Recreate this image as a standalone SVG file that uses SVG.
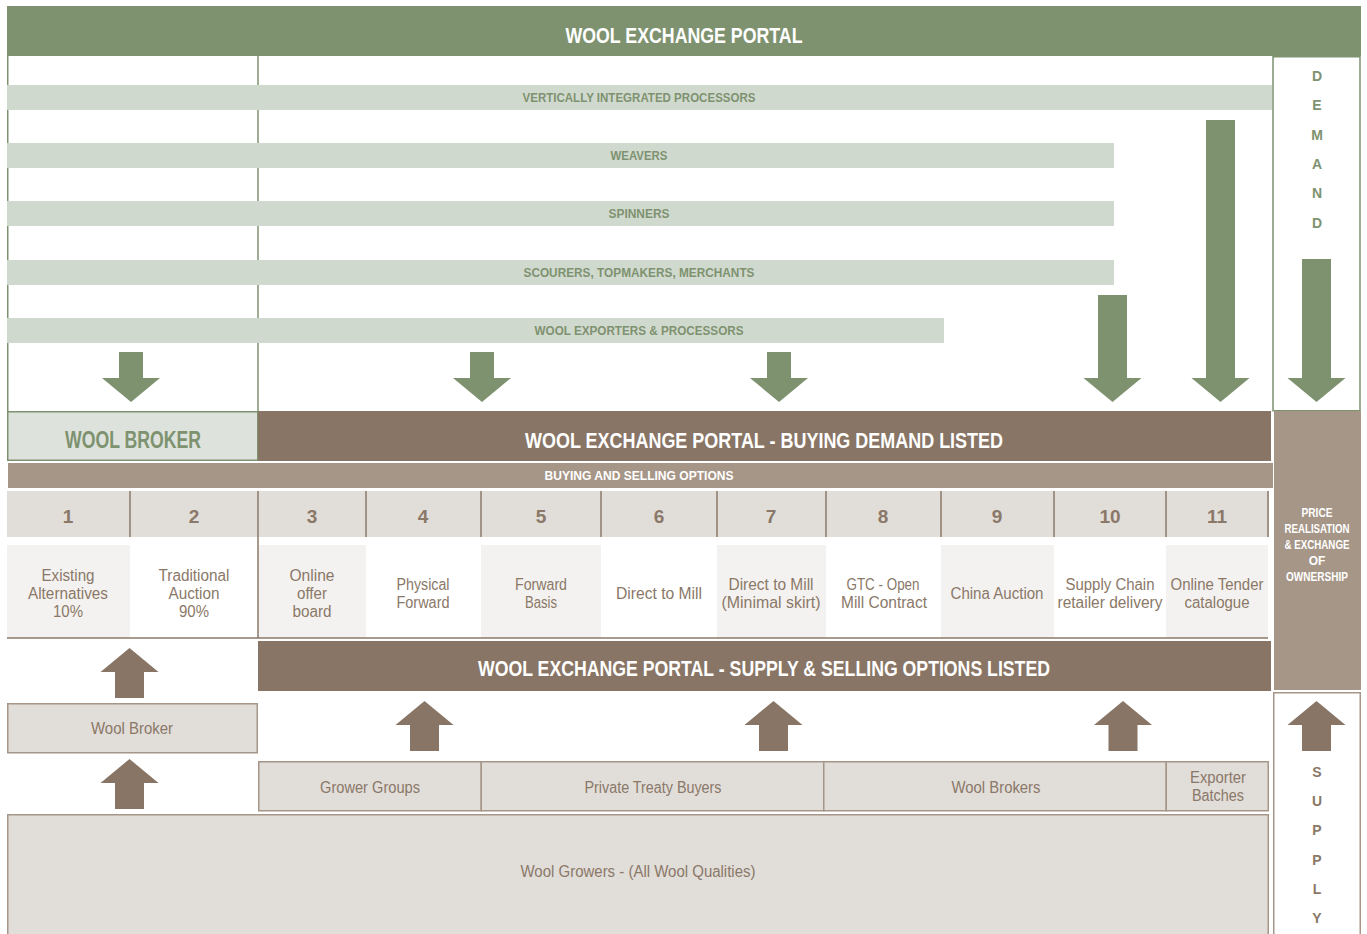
<svg xmlns="http://www.w3.org/2000/svg" width="1367" height="934" viewBox="0 0 1367 934">
<style>
text{font-family:"Liberation Sans","DejaVu Sans",sans-serif;text-anchor:middle}
.hw{fill:#fff;font-weight:bold;font-size:22px}
.gl{fill:#7e9270;font-weight:bold;font-size:13px}
.bar{fill:#d0d9ce}
.num{fill:#8a7868;font-size:19px;font-weight:bold}
.lbl{fill:#8a7868;font-size:16px}
.ltr-g{fill:#7e9270;font-weight:bold;font-size:14px}
.ltr-b{fill:#8a7868;font-weight:bold;font-size:14px}
.pr{fill:#fff;font-weight:bold;font-size:12px}
.ga{fill:#7e9270}
.ba{fill:#887565}
.box{fill:#e1ddd9;stroke:#a69687;stroke-width:1.5}
.lite{fill:#f4f2f0}
.div{stroke:#8a7868;stroke-width:1.5}
</style>

<g id="title">
<rect x="7" y="6" width="1354" height="50" fill="#7e9270"/>
<text class="hw" x="684" y="43" textLength="237" lengthAdjust="spacingAndGlyphs">WOOL EXCHANGE PORTAL</text>
</g>

<g id="frame-lines" stroke="#7e9270" stroke-width="1.5" fill="none">
<line x1="7.75" y1="56" x2="7.75" y2="411"/>
<line x1="258" y1="56" x2="258" y2="411"/>
</g>

<g id="demand">
<rect x="1273" y="56.75" width="87" height="354" fill="#fff" stroke="#7e9270" stroke-width="1.5"/>
<text class="ltr-g" x="1317" y="81">D</text>
<text class="ltr-g" x="1317" y="110">E</text>
<text class="ltr-g" x="1317" y="140">M</text>
<text class="ltr-g" x="1317" y="169">A</text>
<text class="ltr-g" x="1317" y="198">N</text>
<text class="ltr-g" x="1317" y="228">D</text>
</g>

<g id="vertically-integrated">
<rect class="bar" x="7" y="85" width="1265" height="25"/>
<text class="gl" x="639" y="102" textLength="233" lengthAdjust="spacingAndGlyphs">VERTICALLY INTEGRATED PROCESSORS</text>
</g>
<g id="weavers">
<rect class="bar" x="7" y="143" width="1107" height="25"/>
<text class="gl" x="639" y="160" textLength="57" lengthAdjust="spacingAndGlyphs">WEAVERS</text>
</g>
<g id="spinners">
<rect class="bar" x="7" y="201" width="1107" height="25"/>
<text class="gl" x="639" y="218" textLength="61" lengthAdjust="spacingAndGlyphs">SPINNERS</text>
</g>
<g id="scourers">
<rect class="bar" x="7" y="260" width="1107" height="25"/>
<text class="gl" x="639" y="277" textLength="231" lengthAdjust="spacingAndGlyphs">SCOURERS, TOPMAKERS, MERCHANTS</text>
</g>
<g id="exporters">
<rect class="bar" x="7" y="318" width="937" height="25"/>
<text class="gl" x="639" y="335" textLength="209" lengthAdjust="spacingAndGlyphs">WOOL EXPORTERS &amp; PROCESSORS</text>
</g>

<g id="wool-broker-top">
<rect x="7.75" y="411.75" width="250" height="48.5" fill="#dde3dc" stroke="#7e9270" stroke-width="1.5"/>
<text x="133" y="448" fill="#7e9270" font-weight="bold" font-size="23" textLength="136" lengthAdjust="spacingAndGlyphs">WOOL BROKER</text>
</g>

<g id="buying-demand">
<rect x="258" y="411" width="1013" height="50" fill="#887565"/>
<text class="hw" x="764" y="448" textLength="478" lengthAdjust="spacingAndGlyphs">WOOL EXCHANGE PORTAL - BUYING DEMAND LISTED</text>
</g>

<g id="price-realisation">
<rect x="1274" y="411" width="87" height="279" fill="#a69687"/>
<text class="pr" x="1317" y="517" textLength="31" lengthAdjust="spacingAndGlyphs">PRICE</text>
<text class="pr" x="1317" y="533" textLength="65" lengthAdjust="spacingAndGlyphs">REALISATION</text>
<text class="pr" x="1317" y="549" textLength="65" lengthAdjust="spacingAndGlyphs">&amp; EXCHANGE</text>
<text class="pr" x="1317" y="565">OF</text>
<text class="pr" x="1317" y="581" textLength="62" lengthAdjust="spacingAndGlyphs">OWNERSHIP</text>
</g>

<g id="buying-selling-options">
<rect x="8" y="463" width="1265" height="25" fill="#a69687"/>
<text x="639" y="480" fill="#fff" font-weight="bold" font-size="13" textLength="189" lengthAdjust="spacingAndGlyphs">BUYING AND SELLING OPTIONS</text>
</g>

<g id="options-table">
<rect x="7" y="491" width="1262" height="46" fill="#e1ddd9"/>
<rect class="lite" x="7" y="545" width="123" height="93"/>
<rect class="lite" x="258" y="545" width="108" height="93"/>
<rect class="lite" x="481" y="545" width="120" height="93"/>
<rect class="lite" x="717" y="545" width="109" height="93"/>
<rect class="lite" x="941" y="545" width="113" height="93"/>
<rect class="lite" x="1166" y="545" width="102" height="93"/>
<g class="div">
<line x1="130" y1="491" x2="130" y2="537"/>
<line x1="258" y1="491" x2="258" y2="638"/>
<line x1="366" y1="491" x2="366" y2="537"/>
<line x1="481" y1="491" x2="481" y2="537"/>
<line x1="601" y1="491" x2="601" y2="537"/>
<line x1="717" y1="491" x2="717" y2="537"/>
<line x1="826" y1="491" x2="826" y2="537"/>
<line x1="941" y1="491" x2="941" y2="537"/>
<line x1="1054" y1="491" x2="1054" y2="537"/>
<line x1="1166" y1="491" x2="1166" y2="537"/>
<line x1="1268" y1="491" x2="1268" y2="537"/>
<line x1="7" y1="638" x2="1268" y2="638"/>
</g>
</g>

<g id="opt-1"><text class="num" x="68" y="523">1</text><text class="lbl" x="68" y="581" textLength="53" lengthAdjust="spacingAndGlyphs">Existing</text><text class="lbl" x="68" y="599" textLength="80" lengthAdjust="spacingAndGlyphs">Alternatives</text><text class="lbl" x="68" y="617" textLength="30" lengthAdjust="spacingAndGlyphs">10%</text></g>
<g id="opt-2"><text class="num" x="194" y="523">2</text><text class="lbl" x="194" y="581" textLength="71" lengthAdjust="spacingAndGlyphs">Traditional</text><text class="lbl" x="194" y="599" textLength="51" lengthAdjust="spacingAndGlyphs">Auction</text><text class="lbl" x="194" y="617" textLength="30" lengthAdjust="spacingAndGlyphs">90%</text></g>
<g id="opt-3"><text class="num" x="312" y="523">3</text><text class="lbl" x="312" y="581" textLength="45" lengthAdjust="spacingAndGlyphs">Online</text><text class="lbl" x="312" y="599" textLength="30" lengthAdjust="spacingAndGlyphs">offer</text><text class="lbl" x="312" y="617" textLength="39" lengthAdjust="spacingAndGlyphs">board</text></g>
<g id="opt-4"><text class="num" x="423" y="523">4</text><text class="lbl" x="423" y="590" textLength="53" lengthAdjust="spacingAndGlyphs">Physical</text><text class="lbl" x="423" y="608" textLength="53" lengthAdjust="spacingAndGlyphs">Forward</text></g>
<g id="opt-5"><text class="num" x="541" y="523">5</text><text class="lbl" x="541" y="590" textLength="52" lengthAdjust="spacingAndGlyphs">Forward</text><text class="lbl" x="541" y="608" textLength="32" lengthAdjust="spacingAndGlyphs">Basis</text></g>
<g id="opt-6"><text class="num" x="659" y="523">6</text><text class="lbl" x="659" y="599" textLength="86" lengthAdjust="spacingAndGlyphs">Direct to Mill</text></g>
<g id="opt-7"><text class="num" x="771" y="523">7</text><text class="lbl" x="771" y="590" textLength="85" lengthAdjust="spacingAndGlyphs">Direct to Mill</text><text class="lbl" x="771" y="608" textLength="99" lengthAdjust="spacingAndGlyphs">(Minimal skirt)</text></g>
<g id="opt-8"><text class="num" x="883" y="523">8</text><text class="lbl" x="883" y="590" textLength="73" lengthAdjust="spacingAndGlyphs">GTC - Open</text><text class="lbl" x="884" y="608" textLength="86" lengthAdjust="spacingAndGlyphs">Mill Contract</text></g>
<g id="opt-9"><text class="num" x="997" y="523">9</text><text class="lbl" x="997" y="599" textLength="93" lengthAdjust="spacingAndGlyphs">China Auction</text></g>
<g id="opt-10"><text class="num" x="1110" y="523">10</text><text class="lbl" x="1110" y="590" textLength="89" lengthAdjust="spacingAndGlyphs">Supply Chain</text><text class="lbl" x="1110" y="608" textLength="105" lengthAdjust="spacingAndGlyphs">retailer delivery</text></g>
<g id="opt-11"><text class="num" x="1217" y="523">11</text><text class="lbl" x="1217" y="590" textLength="93" lengthAdjust="spacingAndGlyphs">Online Tender</text><text class="lbl" x="1217" y="608" textLength="65" lengthAdjust="spacingAndGlyphs">catalogue</text></g>

<g id="supply-listed">
<rect x="258" y="641" width="1013" height="50" fill="#887565"/>
<text class="hw" x="764" y="676" textLength="572" lengthAdjust="spacingAndGlyphs">WOOL EXCHANGE PORTAL - SUPPLY &amp; SELLING OPTIONS LISTED</text>
</g>

<g id="supply">
<rect x="1273.75" y="692.75" width="86.5" height="245" fill="#fff" stroke="#a69687" stroke-width="1.5"/>
<text class="ltr-b" x="1317" y="777">S</text>
<text class="ltr-b" x="1317" y="806">U</text>
<text class="ltr-b" x="1317" y="835">P</text>
<text class="ltr-b" x="1317" y="865">P</text>
<text class="ltr-b" x="1317" y="894">L</text>
<text class="ltr-b" x="1317" y="923">Y</text>
</g>

<g id="wool-broker">
<rect class="box" x="7.75" y="703.75" width="249.5" height="49"/>
<text class="lbl" x="132" y="734" textLength="82" lengthAdjust="spacingAndGlyphs">Wool Broker</text>
</g>
<g id="grower-groups">
<rect class="box" x="258.75" y="761.75" width="222.5" height="49"/>
<text class="lbl" x="370" y="793" textLength="100" lengthAdjust="spacingAndGlyphs">Grower Groups</text>
</g>
<g id="private-treaty-buyers">
<rect class="box" x="481.25" y="761.75" width="342.5" height="49"/>
<text class="lbl" x="653" y="793" textLength="137" lengthAdjust="spacingAndGlyphs">Private Treaty Buyers</text>
</g>
<g id="wool-brokers">
<rect class="box" x="823.75" y="761.75" width="342.5" height="49"/>
<text class="lbl" x="996" y="793" textLength="89" lengthAdjust="spacingAndGlyphs">Wool Brokers</text>
</g>
<g id="exporter-batches">
<rect class="box" x="1166.25" y="761.75" width="102" height="49"/>
<text class="lbl" x="1218" y="783" textLength="56" lengthAdjust="spacingAndGlyphs">Exporter</text>
<text class="lbl" x="1218" y="801" textLength="52" lengthAdjust="spacingAndGlyphs">Batches</text>
</g>
<g id="wool-growers">
<rect class="box" x="7.75" y="814.75" width="1260.5" height="125"/>
<text class="lbl" x="638" y="877" textLength="235" lengthAdjust="spacingAndGlyphs">Wool Growers - (All Wool Qualities)</text>
</g>

<g id="connectors">
<path class="ga" d="M119 352H143V378H160L131 402L102 378H119Z"/>
<path class="ga" d="M470 352H494V378H511L482 402L453 378H470Z"/>
<path class="ga" d="M767 352H791V378H808L779 402L750 378H767Z"/>
<path class="ga" d="M1098 295H1127V378H1141.5L1112.5 402L1083.5 378H1098Z"/>
<path class="ga" d="M1206 120H1235V378H1249.5L1220.5 402L1191.5 378H1206Z"/>
<path class="ga" d="M1302 259H1331V378H1345.5L1316.5 402L1287.5 378H1302Z"/>
<path class="ba" d="M115 698V672H100.5L129.5 648L158.5 672H144V698Z"/>
<path class="ba" d="M115 809V783H100.5L129.5 759L158.5 783H144V809Z"/>
<path class="ba" d="M410 751V725H395.5L424.5 701L453.5 725H439V751Z"/>
<path class="ba" d="M759 751V725H744.5L773.5 701L802.5 725H788V751Z"/>
<path class="ba" d="M1108.5 751V725H1094L1123 701L1152 725H1137.5V751Z"/>
<path class="ba" d="M1302 751V725H1287.5L1316.5 701L1345.5 725H1331V751Z"/>
</g>
</svg>
